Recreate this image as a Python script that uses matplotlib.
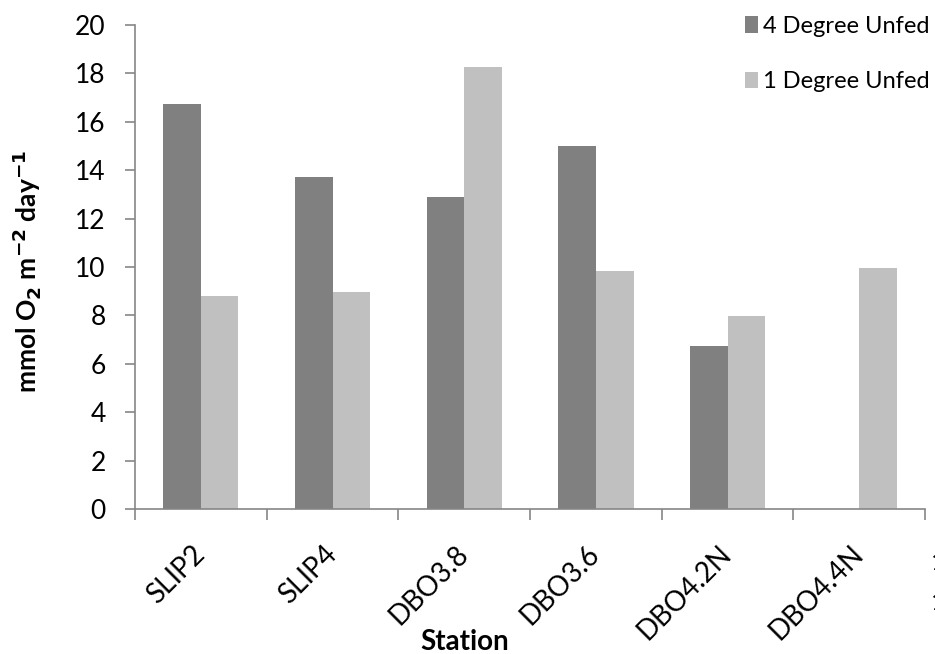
import numpy as np
import matplotlib
matplotlib.use("Agg")
import matplotlib.pyplot as plt

# Station data
stations = ["SLIP2", "SLIP4", "DBO3.8", "DBO3.6", "DBO4.2N", "DBO4.4N"]
unfed_4deg = [16.72, 13.72, 12.9, 15.0, 6.73, 0.0]
unfed_1deg = [8.8, 8.98, 18.25, 9.82, 7.97, 9.95]

plt.rcParams["font.family"] = ["Lato", "DejaVu Sans"]

fig = plt.figure(figsize=(9.35, 6.54), dpi=100)
ax = fig.add_axes([0.1444, 0.2217, 0.845, 0.7401])

x = np.arange(len(stations))
width = 1 / 3.5
ax.bar(x - width / 2, unfed_4deg, width, color="#808080", label="4 Degree Unfed")
ax.bar(x + width / 2, unfed_1deg, width, color="#c0c0c0", label="1 Degree Unfed")

ax.set_xlim(-0.5, len(stations) - 0.5)
ax.set_ylim(0, 20)
ax.set_yticks(np.arange(0, 21, 2))
ax.tick_params(axis="y", labelsize=19, length=7, width=1.2, color="#868686",
               direction="out", pad=14)

# category boundary ticks on x
ax.set_xticks(np.arange(-0.5, len(stations), 1))
ax.set_xticklabels([])
ax.tick_params(axis="x", length=8, width=1.2, color="#868686", direction="out")
for i, name in enumerate(stations):
    ax.text(i - 0.07, -1.3, name, rotation=45, ha="right", va="top",
            fontsize=20, rotation_mode="anchor")

for side in ["top", "right"]:
    ax.spines[side].set_visible(False)
for side in ["left", "bottom"]:
    ax.spines[side].set_color("#868686")
    ax.spines[side].set_linewidth(1.2)

fig.text(0.028, 0.585, r"mmol O$_\mathbf{2}$ m$^\mathbf{-2}$ day$^\mathbf{-1}$",
         rotation=90, ha="center", va="center", fontsize=19, fontweight="bold")
fig.text(0.497, 0.018, "Station", ha="center", va="center",
         fontsize=20, fontweight="bold")

ax.legend(loc="upper left", bbox_to_anchor=(0.787, 0.99), bbox_transform=fig.transFigure,
          frameon=False, fontsize=17, handlelength=0.55, handleheight=0.7,
          handletextpad=0.2, labelspacing=1.45, borderaxespad=0)

# clipped text at the right edge, as in the reference
fig.text(0.9955, 0.14, "1", fontsize=18, va="center")
fig.text(0.9955, 0.078, "1", fontsize=18, va="center")

fig.savefig("out.png", dpi=100)
